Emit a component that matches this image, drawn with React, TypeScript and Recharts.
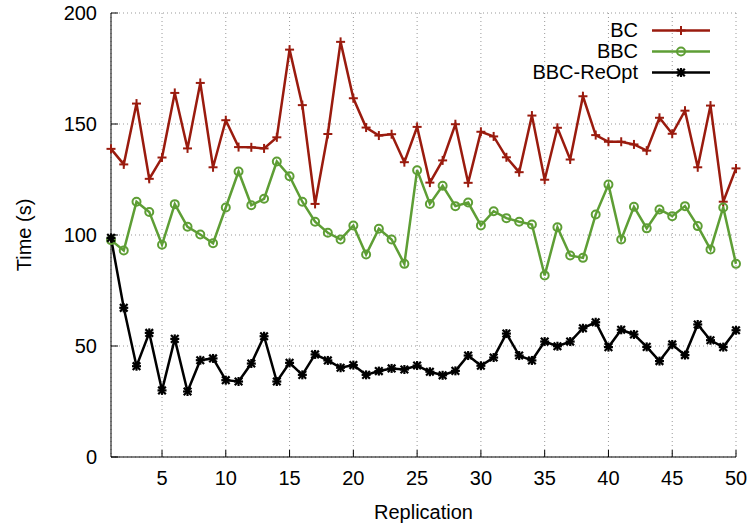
import React from "react";
import { LineChart, Line, XAxis, YAxis, CartesianGrid, Legend } from "recharts";

const replication = [
  1, 2, 3, 4, 5, 6, 7, 8, 9, 10, 11, 12, 13, 14, 15, 16, 17, 18, 19, 20, 21, 22, 23, 24, 25,
  26, 27, 28, 29, 30, 31, 32, 33, 34, 35, 36, 37, 38, 39, 40, 41, 42, 43, 44, 45, 46, 47, 48, 49, 50,
];

const bc = [
  138.8, 131.8, 159.2, 125.3, 134.9, 164, 139, 168.5, 130.5, 151.7,
  139.6, 139.5, 139, 144, 183.5, 158.5, 114, 145.5, 187, 161.6,
  148.4, 144.8, 145.4, 132.8, 148.7, 123.6, 133.6, 149.9, 123.5, 146.5,
  144.4, 135, 128.3, 153.8, 124.9, 148.3, 134, 162.5, 145, 142,
  142, 140.8, 138, 152.8, 145.6, 156, 130.5, 158.3, 115, 130,
];

const bbc = [
  97.7, 93, 115, 110.4, 95.6, 113.9, 103.7, 100.2, 96.3, 112.4,
  128.6, 113.4, 116.3, 133.1, 126.5, 115, 106, 101, 98, 104.3,
  91.2, 102.8, 98, 87, 129.2, 114, 122.2, 113, 114.6, 104.3,
  110.7, 107.6, 106, 104.7, 81.8, 103.5, 90.8, 89.7, 109.2, 122.7,
  98, 112.7, 103, 111.5, 108.5, 113, 104, 93.5, 112.4, 87,
];

const bbcReopt = [
  98.7, 67.2, 40.9, 55.9, 30, 53.2, 29.5, 43.6, 44.4, 34.6,
  34, 42.1, 54.4, 34, 42.4, 37, 46.2, 43.5, 40.2, 41.4,
  37, 38.7, 39.9, 39.4, 41.2, 38.4, 36.8, 38.8, 45.7, 41.1,
  44.8, 55.6, 45.7, 43.5, 52, 49.9, 52, 58, 60.7, 49.5,
  57.3, 55.2, 49.6, 43.2, 50.7, 45.9, 59.7, 52.6, 49.5, 57.1,
];

const xTicks = [5, 10, 15, 20, 25, 30, 35, 40, 45, 50];
const yTicks = [0, 50, 100, 150, 200];

const RED = "#9a1b0e";
const GREEN = "#5e9e35";
const BLACK = "#000000";
const FONT = "'Liberation Sans', Arial, Helvetica, sans-serif";

const data = replication.map((r, i) => ({
  rep: r,
  bc: bc[i],
  bbc: bbc[i],
  reopt: bbcReopt[i],
}));

type Shape = "plus" | "circle" | "star";

function Marker({ cx, cy, shape, color }: { cx: number; cy: number; shape: Shape; color: string }) {
  if (cx == null || cy == null) return null;
  const s = 4.5;
  if (shape === "plus") {
    return (
      <g stroke={color} strokeWidth={2}>
        <line x1={cx - s} y1={cy} x2={cx + s} y2={cy} />
        <line x1={cx} y1={cy - s} x2={cx} y2={cy + s} />
      </g>
    );
  }
  if (shape === "circle") {
    return <circle cx={cx} cy={cy} r={4} fill="none" stroke={color} strokeWidth={2} />;
  }
  return (
    <g stroke={color} strokeWidth={2.2}>
      <line x1={cx - s} y1={cy} x2={cx + s} y2={cy} />
      <line x1={cx} y1={cy - s} x2={cx} y2={cy + s} />
      <line x1={cx - 3.8} y1={cy - 3.8} x2={cx + 3.8} y2={cy + 3.8} />
      <line x1={cx - 3.8} y1={cy + 3.8} x2={cx + 3.8} y2={cy - 3.8} />
    </g>
  );
}

const dotFor = (shape: Shape, color: string) => (p: any) =>
  <Marker key={`${shape}-${p.index}`} cx={p.cx} cy={p.cy} shape={shape} color={color} />;

const legendRows: { name: string; color: string; shape: Shape }[] = [
  { name: "BC", color: RED, shape: "plus" },
  { name: "BBC", color: GREEN, shape: "circle" },
  { name: "BBC-ReOpt", color: BLACK, shape: "star" },
];

function KeyBox() {
  return (
    <div style={{ fontFamily: FONT, fontSize: 20, color: "#000" }}>
      {legendRows.map((r) => (
        <div
          key={r.name}
          style={{ display: "flex", justifyContent: "flex-end", alignItems: "center", height: 21, paddingRight: 41 }}
        >
          <span style={{ marginRight: 14, lineHeight: "21px" }}>{r.name}</span>
          <svg width={58} height={21}>
            <line x1={0} y1={10.5} x2={58} y2={10.5} stroke={r.color} strokeWidth={2.5} />
            <Marker cx={29} cy={10.5} shape={r.shape} color={r.color} />
          </svg>
        </div>
      ))}
    </div>
  );
}

export default function App() {
  return (
    <div style={{ position: "absolute", left: 0, top: 0, background: "#fff" }}>
      <LineChart width={751} height={525} data={data} margin={{ top: 13, right: 15, bottom: 0, left: 0 }}>
        <CartesianGrid stroke="#999" strokeDasharray="1 3" />
        <XAxis
          dataKey="rep"
          type="number"
          domain={[1, 50]}
          ticks={xTicks}
          height={68}
          stroke="#000"
          tickSize={-7}
          tickMargin={21}
          tick={{ fill: "#000", fontSize: 20, fontFamily: FONT }}
          label={{ value: "Replication", position: "insideBottom", offset: 6, fill: "#000", fontSize: 20, fontFamily: FONT }}
        />
        <YAxis
          type="number"
          domain={[0, 200]}
          ticks={yTicks}
          width={111}
          stroke="#000"
          tickSize={-7}
          tickMargin={21}
          tick={{ fill: "#000", fontSize: 20, fontFamily: FONT }}
          label={{
            value: "Time (s)",
            angle: -90,
            position: "insideLeft",
            offset: 24,
            fill: "#000",
            fontSize: 20,
            fontFamily: FONT,
            style: { textAnchor: "middle" },
          }}
        />
        <Legend
          layout="horizontal"
          verticalAlign="middle"
          align="center"
          content={() => <KeyBox />}
          wrapperStyle={{ position: "absolute", top: 20, left: 0, width: 751 }}
        />
        <Line
          dataKey="bc"
          name="BC"
          type="linear"
          stroke={RED}
          strokeWidth={2.5}
          dot={dotFor("plus", RED)}
          activeDot={false}
          isAnimationActive={false}
        />
        <Line
          dataKey="bbc"
          name="BBC"
          type="linear"
          stroke={GREEN}
          strokeWidth={2.5}
          dot={dotFor("circle", GREEN)}
          activeDot={false}
          isAnimationActive={false}
        />
        <Line
          dataKey="reopt"
          name="BBC-ReOpt"
          type="linear"
          stroke={BLACK}
          strokeWidth={2.5}
          dot={dotFor("star", BLACK)}
          activeDot={false}
          isAnimationActive={false}
        />
      </LineChart>
    </div>
  );
}
